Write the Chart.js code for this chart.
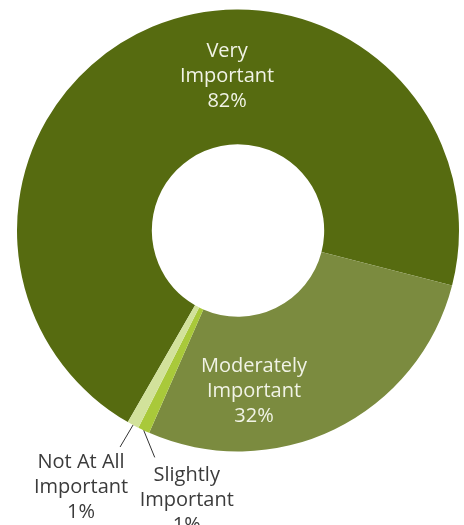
<!DOCTYPE html>
<html>
<head>
<meta charset="utf-8">
<script src="https://cdn.jsdelivr.net/npm/chart.js@4/dist/chart.umd.min.js"></script>
<style>
  html, body { margin: 0; padding: 0; background: #fff; }
  canvas { display: block; }
</style>
</head>
<body>
<canvas id="importance-chart" width="464" height="525"></canvas>
<script>
'use strict';

var categories = ['Very Important', 'Moderately Important', 'Slightly Important', 'Not At All Important'];
var percentValues = [82, 32, 1, 1];
var labelLines = [['Very', 'Important'], ['Moderately', 'Important'], ['Slightly', 'Important'], ['Not At All', 'Important']];

var sliceColors = ['#566b10', '#7b8b3f', '#a9c93a', '#d2e29b'];

// inside labels sit at an angle (deg from top) and distance from the centre,
// outside ones hang off the slice edge on a short leader line
var labelPlacement = [
	{ inside: true, angle: -4.2, dist: 149 },
	{ inside: true, angle: 174.5, dist: 167 },
	{ inside: false, lineEnd: [11, 27], text: [43, 76] },
	{ inside: false, lineEnd: [-13, 22], text: [-52, 68] }
];

var sliceLabels = {
	id: 'sliceLabels',
	afterDatasetsDraw: function(chart) {
		var ctx = chart.ctx;
		var meta = chart.getDatasetMeta(0);
		ctx.save();
		ctx.font = '20px "Open Sans"';
		ctx.textAlign = 'center';
		ctx.textBaseline = 'alphabetic';
		meta.data.forEach(function(arc, i) {
			var p = labelPlacement[i];
			var lines = labelLines[i].concat([percentValues[i] + '%']);
			var cx, cy;
			if (p.inside) {
				var a = p.angle * Math.PI / 180;
				cx = arc.x + Math.sin(a) * p.dist;
				cy = arc.y - Math.cos(a) * p.dist;
				ctx.fillStyle = '#f1f3e6';
			} else {
				var mid = (arc.startAngle + arc.endAngle) / 2;
				var ex = arc.x + Math.cos(mid) * arc.outerRadius;
				var ey = arc.y + Math.sin(mid) * arc.outerRadius;
				ctx.strokeStyle = '#333333';
				ctx.lineWidth = 1;
				ctx.beginPath();
				ctx.moveTo(ex, ey);
				ctx.lineTo(ex + p.lineEnd[0], ey + p.lineEnd[1]);
				ctx.stroke();
				cx = ex + p.text[0];
				cy = ey + p.text[1];
				ctx.fillStyle = '#3b3b3b';
			}
			lines.forEach(function(t, j) {
				ctx.fillText(t, cx, cy + (j - 1) * 25);
			});
		});
		ctx.restore();
	}
};

var importanceConfig = {
	type: 'doughnut',
	data: {
		labels: categories,
		datasets: [{
			data: percentValues,
			backgroundColor: sliceColors,
			borderWidth: 0
		}]
	},
	options: {
		responsive: false,
		animation: false,
		rotation: 209.9,
		cutout: '39%',
		layout: {
			padding: { left: 17, right: 5, top: 9, bottom: 73 }
		},
		plugins: {
			legend: { display: false },
			tooltip: { enabled: false }
		}
	},
	plugins: [sliceLabels]
};

var importanceCanvas = document.getElementById('importance-chart').getContext('2d');
var importanceChart = new Chart(importanceCanvas, importanceConfig);
</script>
</body>
</html>
